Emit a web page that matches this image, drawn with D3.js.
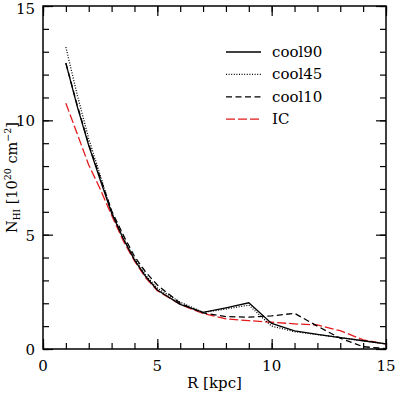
<!DOCTYPE html>
<html>
<head>
<meta charset="utf-8">
<script src="https://cdn.jsdelivr.net/npm/d3@7"></script>
<style>
  body { margin: 0; background: #fff; }
  svg { display: block; }
</style>
</head>
<body>
<div id="main"></div>
<script>
var radius = [1, 1.5, 2, 2.5, 3, 3.5, 4, 4.5, 5, 6, 7, 8, 9, 10, 11, 12, 13, 14, 15];
var cool90 = [12.5, 10.6, 8.9, 7.4, 5.95, 4.84, 3.9, 3.16, 2.58, 1.95, 1.6, 1.8, 2.02, 1.12, 0.79, 0.64, 0.5, 0.36, 0.22];
var cool45 = [13.2, 11.1, 9.2, 7.6, 6.0, 4.9, 3.95, 3.22, 2.66, 2.05, 1.6, 1.75, 1.92, 1.0, 0.76, 0.63, 0.5, 0.36, 0.22];
var cool10 = [12.5, 10.65, 8.95, 7.5, 6.05, 5.0, 4.05, 3.35, 2.8, 2.0, 1.58, 1.42, 1.39, 1.45, 1.56, 1.0, 0.47, 0.1, 0.02];
var ic = [10.75, 9.4, 8.05, 7.0, 5.85, 4.75, 3.85, 3.1, 2.55, 1.95, 1.55, 1.32, 1.24, 1.17, 1.1, 1.05, 0.8, 0.4, 0.22];
var seriesNames = ["cool90", "cool45", "cool10", "IC"];
var xTicks = [0, 5, 10, 15];
var yTicks = [0, 5, 10, 15];

var ctx = {
    w: 396,
    h: 393,
    left: 43,
    right: 386,
    top: 6,
    bottom: 349,
    FONT: "'DejaVu Serif', serif"
};

var styles = {
    cool90: {color: "#000", dash: null},
    cool45: {color: "#000", dash: "1,1.6"},
    cool10: {color: "#000", dash: "6,3.5"},
    IC: {color: "#e41a1c", dash: "9,3"}
};

var createViz = function() {
    var svg = d3.select("#main").append("svg")
        .attr("width", ctx.w)
        .attr("height", ctx.h);

    var x = d3.scaleLinear().domain([0, 15]).range([ctx.left, ctx.right]);
    var y = d3.scaleLinear().domain([0, 15]).range([ctx.bottom, ctx.top]);
    var minor = d3.range(0, 16, 1);

    // ticks pointing inward on all four sides
    var axG = svg.append("g");
    var tickAttrs = function(sel) {
        sel.select(".domain").remove();
        sel.selectAll("line").attr("stroke", "#000").attr("stroke-width", 1.2);
        sel.selectAll("text").remove();
    };
    [["bottom", d3.axisTop, ctx.bottom, x], ["top", d3.axisBottom, ctx.top, x]].forEach(function(a) {
        axG.append("g").attr("transform", "translate(0," + a[2] + ")")
            .call(a[1](a[3]).tickValues(minor).tickSize(6)).call(tickAttrs);
        axG.append("g").attr("transform", "translate(0," + a[2] + ")")
            .call(a[1](a[3]).tickValues(xTicks).tickSize(10)).call(tickAttrs);
    });
    [[d3.axisRight, ctx.left], [d3.axisLeft, ctx.right]].forEach(function(a) {
        axG.append("g").attr("transform", "translate(" + a[1] + ",0)")
            .call(a[0](y).tickValues(minor).tickSize(6)).call(tickAttrs);
        axG.append("g").attr("transform", "translate(" + a[1] + ",0)")
            .call(a[0](y).tickValues(yTicks).tickSize(10)).call(tickAttrs);
    });

    // frame
    svg.append("rect")
        .attr("x", ctx.left).attr("y", ctx.top)
        .attr("width", ctx.right - ctx.left).attr("height", ctx.bottom - ctx.top)
        .attr("fill", "none").attr("stroke", "#000").attr("stroke-width", 1.5);

    // tick labels
    svg.append("g").selectAll("text").data(xTicks).enter().append("text")
        .attr("x", function(d) { return x(d); })
        .attr("y", ctx.bottom + 22)
        .attr("text-anchor", "middle")
        .style("font-family", ctx.FONT).style("font-size", "15px")
        .text(function(d) { return d; });
    svg.append("g").selectAll("text").data(yTicks).enter().append("text")
        .attr("x", ctx.left - 8)
        .attr("y", function(d) { return Math.max(y(d) + 6, 14); })
        .attr("text-anchor", "end")
        .style("font-family", ctx.FONT).style("font-size", "15px")
        .text(function(d) { return d; });

    // axis titles
    svg.append("text")
        .attr("x", (ctx.left + ctx.right) / 2)
        .attr("y", 388)
        .attr("text-anchor", "middle")
        .style("font-family", ctx.FONT).style("font-size", "15px")
        .text("R [kpc]");
    var yl = svg.append("text")
        .attr("transform", "translate(17," + ((ctx.top + ctx.bottom) / 2) + ") rotate(-90)")
        .attr("text-anchor", "middle")
        .style("font-family", ctx.FONT).style("font-size", "14.5px");
    yl.append("tspan").text("N");
    yl.append("tspan").attr("dy", 3).style("font-size", "9px").text("HI");
    yl.append("tspan").attr("dy", -3).text(" [10");
    yl.append("tspan").attr("dy", -6).style("font-size", "9.5px").text("20");
    yl.append("tspan").attr("dy", 6).text(" cm");
    yl.append("tspan").attr("dy", -6).style("font-size", "9.5px").text("\u22122");
    yl.append("tspan").attr("dy", 6).text("]");

    // curves
    var table = {cool90: cool90, cool45: cool45, cool10: cool10, IC: ic};
    var line = d3.line()
        .x(function(d, i) { return x(radius[i]); })
        .y(function(d) { return y(d); });
    var plotG = svg.append("g");
    ["IC", "cool10", "cool45", "cool90"].forEach(function(name) {
        plotG.append("path")
            .datum(table[name])
            .attr("d", line)
            .attr("fill", "none")
            .attr("stroke", styles[name].color)
            .attr("stroke-width", 1.3)
            .attr("stroke-dasharray", styles[name].dash);
    });

    // legend
    var lg = svg.append("g").attr("transform", "translate(226,52)");
    seriesNames.forEach(function(name, i) {
        var row = lg.append("g").attr("transform", "translate(0," + (i * 22.4) + ")");
        row.append("line")
            .attr("x1", 0).attr("x2", 35).attr("y1", 0).attr("y2", 0)
            .attr("stroke", styles[name].color)
            .attr("stroke-width", 1.3)
            .attr("stroke-dasharray", styles[name].dash);
        row.append("text")
            .attr("x", 46).attr("y", 5)
            .style("font-family", ctx.FONT).style("font-size", "15px")
            .text(name);
    });
};

createViz();
</script>
</body>
</html>
